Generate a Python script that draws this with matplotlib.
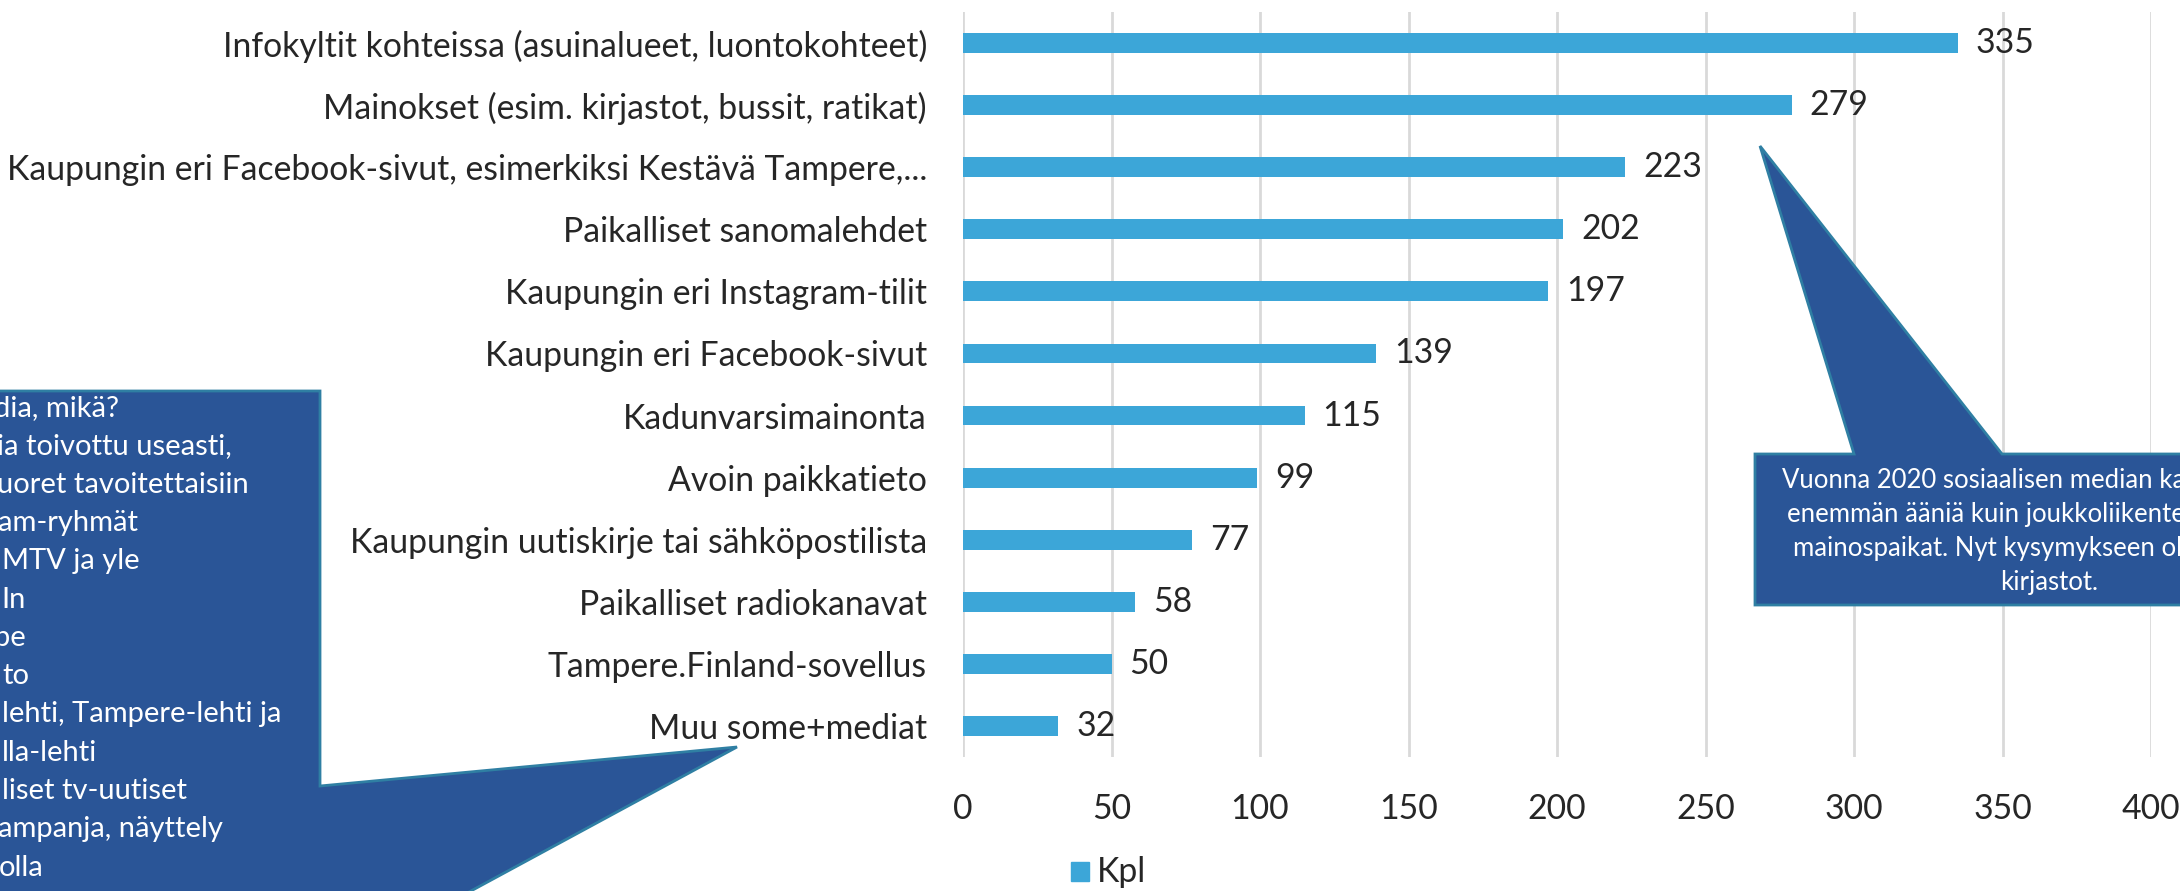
import matplotlib
matplotlib.use("Agg")
import matplotlib.pyplot as plt
from matplotlib.patches import Polygon

W, H = 2180, 891

categories = [
    "Infokyltit kohteissa (asuinalueet, luontokohteet)",
    "Mainokset (esim. kirjastot, bussit, ratikat)",
    "Kaupungin eri Facebook-sivut, esimerkiksi Kestävä Tampere,...",
    "Paikalliset sanomalehdet",
    "Kaupungin eri Instagram-tilit",
    "Kaupungin eri Facebook-sivut",
    "Kadunvarsimainonta",
    "Avoin paikkatieto",
    "Kaupungin uutiskirje tai sähköpostilista",
    "Paikalliset radiokanavat",
    "Tampere.Finland-sovellus",
    "Muu some+mediat",
]
values = [335, 279, 223, 202, 197, 139, 115, 99, 77, 58, 50, 32]
xticks = [0, 50, 100, 150, 200, 250, 300, 350, 400]
series_name = "Kpl"

# visible parts of the callout texts (the boxes run off the edge of the slide)
left_note = [
    "dia, mikä?",
    "ia toivottu useasti,",
    "uoret tavoitettaisiin",
    "am-ryhmät",
    "MTV ja yle",
    "In",
    "be",
    "to",
    "lehti, Tampere-lehti ja",
    "lla-lehti",
    "liset tv-uutiset",
    "ampanja, näyttely",
    "olla",
]
left_note_x = [-6, -3, -3, -2, 2, 1, -6, 2, 2, 2, 2, -2, -1]
right_note = [
    "Vuonna 2020 sosiaalisen median kanavat saivat",
    "enemmän ääniä kuin joukkoliikenteen",
    "mainospaikat. Nyt kysymykseen oli lisätty",
    "kirjastot.",
]
right_note_x = [1782, 1787, 1793, 2000]

BAR = "#3CA6D8"
BOX = "#2A5597"
EDGE = "#2F7FA3"
TXT = "#262626"
FS = 24.3

plt.rcParams["font.family"] = ["Lato", "DejaVu Sans"]

fig = plt.figure(figsize=(W / 100, H / 100), dpi=100)


def px(x, y):
    return (x / W, 1 - y / H)


ax = fig.add_axes([963 / W, 1 - 757 / H, (2151 - 963) / W, (757 - 12) / H])
ypos = list(range(len(categories)))
ax.barh(ypos, values, height=0.32, color=BAR, zorder=3)
ax.set_ylim(len(categories) - 0.5, -0.5)
ax.set_xlim(0, 400)
ax.set_yticks(ypos)
ax.set_yticklabels(categories)
ax.set_xticks(xticks)
ax.tick_params(axis="both", length=0, labelsize=FS, labelcolor=TXT)
ax.tick_params(axis="y", pad=26)
ax.tick_params(axis="x", pad=26)
for s in ax.spines.values():
    s.set_visible(False)
ax.grid(axis="x", color="#D9D9D9", linewidth=2, zorder=0)

for y, v in zip(ypos, values):
    ax.annotate(str(v), (v, y), xytext=(13, 0), textcoords="offset points",
                va="center", ha="left", fontsize=FS, color=TXT)

# legend
fig.patches.append(plt.Rectangle(px(1071, 881), 18 / W, 19 / H, color=BAR,
                                 transform=fig.transFigure, figure=fig))
fig.text(*px(1097, 872), series_name, fontsize=FS, color=TXT, va="center", ha="left")

# left callout
left_shape = [(-10, 391), (320, 391), (320, 786), (737, 747), (445, 905), (-10, 905)]
fig.patches.append(Polygon([px(*p) for p in left_shape], closed=True, facecolor=BOX,
                           edgecolor=EDGE, linewidth=2, transform=fig.transFigure,
                           figure=fig, zorder=5))
for i, (line, x0) in enumerate(zip(left_note, left_note_x)):
    fig.text(*px(x0, 416 + 38.3 * i), line, fontsize=21, color="white",
             ha="left", va="baseline", zorder=6)

# right callout
right_shape = [(1755, 454), (1854, 454), (1760, 146), (2002, 454), (2195, 454),
               (2195, 605), (1755, 605)]
fig.patches.append(Polygon([px(*p) for p in right_shape], closed=True, facecolor=BOX,
                           edgecolor=EDGE, linewidth=2, transform=fig.transFigure,
                           figure=fig, zorder=5))
for i, (line, x0) in enumerate(zip(right_note, right_note_x)):
    fig.text(*px(x0, 488 + 34 * i), line, fontsize=18.5, color="white",
             ha="left", va="baseline", zorder=6)

fig.savefig("out.png", dpi=100)
